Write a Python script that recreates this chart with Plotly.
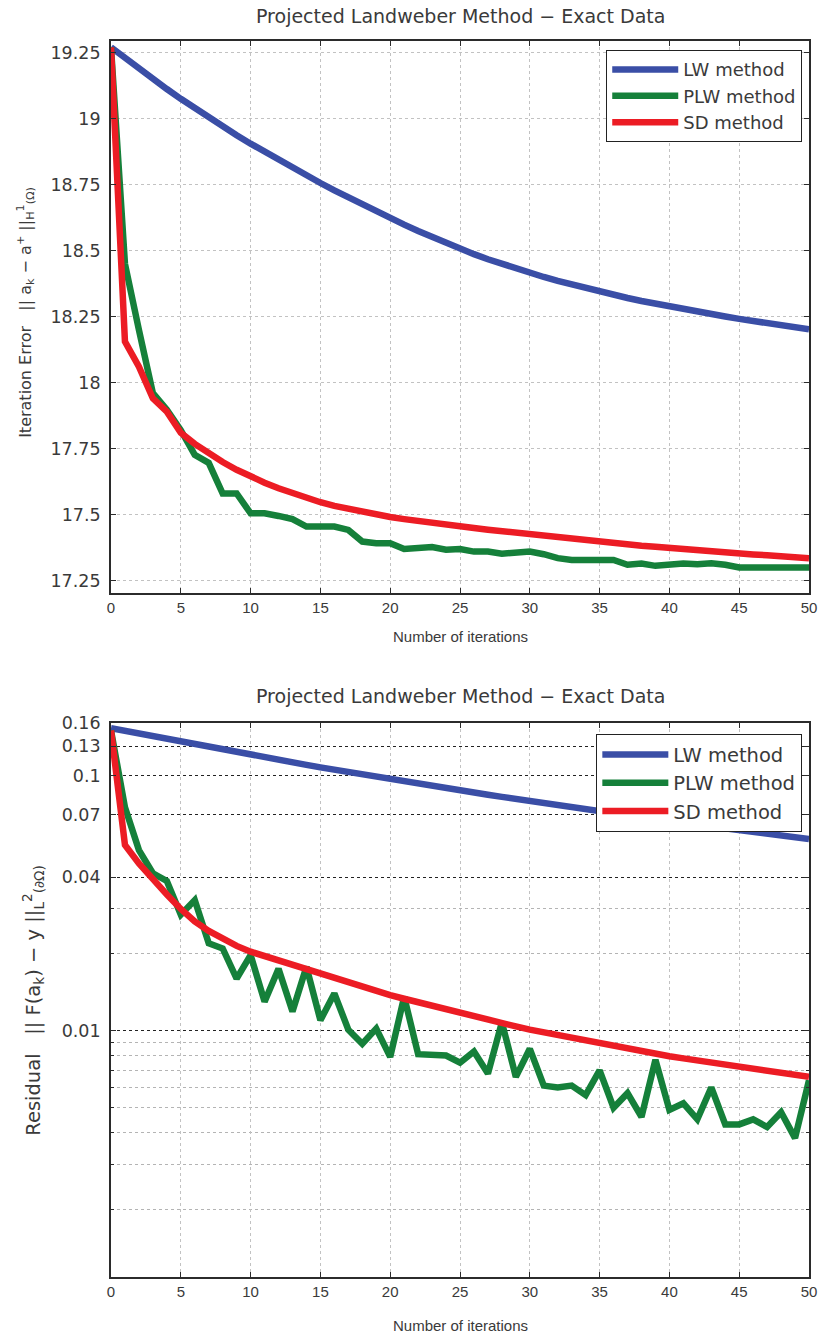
import plotly.graph_objects as go

iterations = list(range(51))

# Top panel: iteration error
err_lw = [19.27, 19.229, 19.189, 19.150, 19.112, 19.075, 19.039, 19.004, 18.970, 18.937,
          18.905, 18.874, 18.8435, 18.8137, 18.7845, 18.756, 18.7281, 18.7009, 18.6743, 18.6483,
          18.623, 18.5984, 18.5745, 18.5513, 18.5288, 18.507, 18.4865, 18.4672, 18.449, 18.4318,
          18.4155, 18.400, 18.3852, 18.3711, 18.3576, 18.3447, 18.3324, 18.3206, 18.3093, 18.2985,
          18.2881, 18.2781, 18.2685, 18.2592, 18.2502, 18.2415, 18.2331, 18.2249, 18.2169, 18.2091,
          18.2015]
err_plw = [19.27, 18.45, 18.2, 17.96, 17.897, 17.82, 17.726, 17.696, 17.58, 17.58,
           17.505, 17.505, 17.495, 17.483, 17.455, 17.455, 17.455, 17.442, 17.398, 17.392,
           17.392, 17.37, 17.374, 17.377, 17.367, 17.37, 17.36, 17.36, 17.352, 17.356,
           17.36, 17.35, 17.335, 17.328, 17.328, 17.322, 17.328, 17.31, 17.315, 17.306,
           17.31, 17.315, 17.312, 17.316, 17.31, 17.3, 17.3, 17.3, 17.301, 17.3,
           17.3]
err_sd = [19.27, 18.155, 18.06, 17.94, 17.89, 17.81, 17.768, 17.731, 17.699, 17.670,
          17.644, 17.621, 17.600, 17.581, 17.563, 17.547, 17.533, 17.521, 17.510, 17.500,
          17.491, 17.483, 17.475, 17.468, 17.461, 17.455, 17.449, 17.443, 17.437, 17.431,
          17.425, 17.419, 17.413, 17.408, 17.402, 17.397, 17.392, 17.387, 17.382, 17.378,
          17.373, 17.369, 17.365, 17.361, 17.357, 17.353, 17.349, 17.346, 17.342, 17.339,
          17.335]

# Bottom panel: residual (log scale)
res_lw = [0.153, 0.1493, 0.1456, 0.1421, 0.1386, 0.1352, 0.1321, 0.1290, 0.1261, 0.1231,
          0.1203, 0.1176, 0.1150, 0.1125, 0.1100, 0.1075, 0.1052, 0.1030, 0.1008, 0.0987,
          0.0966, 0.0947, 0.0928, 0.0909, 0.0891, 0.0873, 0.0856, 0.0840, 0.0824, 0.0808,
          0.0792, 0.0778, 0.0763, 0.0749, 0.0736, 0.0722, 0.0710, 0.0697, 0.0685, 0.0674,
          0.0662, 0.0651, 0.0640, 0.0630, 0.0619, 0.0609, 0.0600, 0.0591, 0.0582, 0.0573,
          0.0564]
res_plw = [0.150, 0.075, 0.051, 0.0414, 0.0386, 0.0285, 0.0325, 0.022, 0.021, 0.016,
           0.0198, 0.013, 0.0175, 0.0119, 0.0178, 0.0110, 0.014, 0.0101, 0.0089, 0.0102,
           0.0079, 0.0136, 0.0081, 0.0080, 0.0080, 0.0075, 0.0083, 0.0068, 0.0108, 0.0066,
           0.0085, 0.0061, 0.0060, 0.0061, 0.0056, 0.0070, 0.0050, 0.0057, 0.0046, 0.0077,
           0.0049, 0.0052, 0.0045, 0.0060, 0.0043, 0.0043, 0.0045, 0.0042, 0.0048, 0.0038,
           0.0064]
res_sd = [0.150, 0.0534, 0.0452, 0.0389, 0.0342, 0.0300, 0.0268, 0.0246, 0.0229, 0.0215,
          0.0204, 0.0196, 0.0188, 0.0180, 0.0173, 0.0166, 0.0160, 0.0154, 0.0149, 0.0143,
          0.0138, 0.01335, 0.01292, 0.0125, 0.01209, 0.0117, 0.01136, 0.01103, 0.01071, 0.0104,
          0.0101, 0.00985, 0.0096, 0.00936, 0.00913, 0.0089, 0.0087, 0.0085, 0.00832, 0.00813,
          0.00795, 0.0078, 0.00765, 0.0075, 0.00736, 0.00722, 0.00709, 0.00697, 0.00684, 0.00672,
          0.0066]

series_names = ["LW method", "PLW method", "SD method"]
colors = ["#3a4ea6", "#15803a", "#ec1c24"]

x_ticks = list(range(0, 51, 5))
err_ticks = [17.25, 17.5, 17.75, 18, 18.25, 18.5, 18.75, 19, 19.25]
err_ticklabels = ["17.25", "17.5", "17.75", "18", "18.25", "18.5", "18.75", "19", "19.25"]
res_ticks = [0.01, 0.04, 0.07, 0.1, 0.13, 0.16]
res_ticklabels = ["0.01", "0.04", "0.07", "0.1", "0.13", "0.16"]
res_minor_ticks = [0.002, 0.003, 0.004, 0.005, 0.006, 0.007, 0.008, 0.009, 0.02, 0.03]

title_text = "Projected Landweber Method − Exact Data"
xtitle_text = "Number of iterations"
ytitle_top = "Iteration Error   || a<sub>k</sub> − a<sup>+</sup> ||<sub>H</sub><sup>1</sup><sub>(Ω)</sub>"
ytitle_bot = "Residual   || F(a<sub>k</sub>) − y ||<sub>L</sub><sup>2</sup><sub>(∂Ω)</sub>"

W, H = 829, 1340
L, R, T, B = 111, 816, 40, 1277

def px(xp):
    return (xp - L) / (R - L)

def py(yp):
    return (B - yp) / (B - T)

TXT = "#3a3a3a"
WIDE = "DejaVu Sans, Liberation Sans, Arial"
ARIAL = "Liberation Sans, Arial"

fig = go.Figure()
for name, col, ys in zip(series_names, colors, [err_lw, err_plw, err_sd]):
    fig.add_trace(go.Scatter(x=iterations, y=ys, mode="lines", name=name,
                             line=dict(color=col, width=6.5), xaxis="x", yaxis="y",
                             legend="legend"))
for name, col, ys in zip(series_names, colors, [res_lw, res_plw, res_sd]):
    fig.add_trace(go.Scatter(x=iterations, y=ys, mode="lines", name=name,
                             line=dict(color=col, width=6.5), xaxis="x2", yaxis="y2",
                             legend="legend2"))

frame = dict(showline=True, linecolor="#2b2b2b", linewidth=1.8, mirror="ticks",
             ticks="inside", ticklen=5, tickcolor="#2b2b2b", zeroline=False)

xcommon = dict(range=[0, 50], tickvals=x_ticks, showgrid=True, gridcolor="#c2c2c2",
               griddash="dot", gridwidth=1,
               tickfont=dict(family=ARIAL, size=15, color=TXT), **frame)

top_dom = [py(593.3), py(40.7)]
bot_dom = [py(1276.7), py(723.3)]

fig.update_layout(
    width=W, height=H,
    margin=dict(l=L, r=W - R, t=T, b=H - B, pad=0),
    paper_bgcolor="white", plot_bgcolor="white",
    showlegend=True,
    xaxis=dict(anchor="y", domain=[0, 1], **xcommon),
    xaxis2=dict(anchor="y2", domain=[0, 1], **xcommon),
    yaxis=dict(anchor="x", domain=top_dom, range=[17.202, 19.295],
               tickvals=err_ticks, ticktext=err_ticklabels, ticklabelstandoff=5,
               showgrid=True, gridcolor="#c2c2c2", griddash="dot", gridwidth=1,
               tickfont=dict(family=WIDE, size=17.5, color=TXT), **frame),
    yaxis2=dict(anchor="x2", domain=bot_dom, type="log", range=[-2.963, -0.7959],
                tickvals=res_ticks, ticktext=res_ticklabels, ticklabelstandoff=5,
                showgrid=True, gridcolor="#222222", griddash="dot", gridwidth=1.2,
                minor=dict(tickvals=res_minor_ticks, showgrid=True, gridcolor="#b4b4b4",
                           griddash="dot", gridwidth=1, ticks="inside", ticklen=3,
                           tickcolor="#2b2b2b"),
                tickfont=dict(family=WIDE, size=17.5, color=TXT), **frame),
    legend=dict(x=px(611), y=py(50), xanchor="left", yanchor="top",
                bgcolor="white", bordercolor="#222222", borderwidth=1.2,
                font=dict(family=WIDE, size=18, color=TXT),
                itemwidth=66, tracegroupgap=0),
    legend2=dict(x=px(601), y=py(734), xanchor="left", yanchor="top",
                 bgcolor="white", bordercolor="#222222", borderwidth=1.2,
                 font=dict(family=WIDE, size=19.5, color=TXT),
                 itemwidth=66, tracegroupgap=0),
)

ann = []
for yy in (16, 696):
    ann.append(dict(text=title_text, xref="paper", yref="paper", x=0.5, y=py(yy),
                    showarrow=False, font=dict(family=WIDE, size=19, color=TXT),
                    xanchor="center", yanchor="middle"))
for yy in (636, 1325):
    ann.append(dict(text=xtitle_text, xref="paper", yref="paper", x=0.5, y=py(yy),
                    showarrow=False, font=dict(family=ARIAL, size=15, color=TXT),
                    xanchor="center", yanchor="middle"))
ann.append(dict(text=ytitle_top, xref="paper", yref="paper", x=px(24), y=py(312),
                showarrow=False, textangle=-90, font=dict(family=WIDE, size=16, color=TXT),
                xanchor="center", yanchor="middle"))
ann.append(dict(text=ytitle_bot, xref="paper", yref="paper", x=px(32), y=py(1000),
                showarrow=False, textangle=-90, font=dict(family=WIDE, size=19.5, color=TXT),
                xanchor="center", yanchor="middle"))
fig.update_layout(annotations=ann)

fig.write_html("out.html", config={"displayModeBar": False},
               post_script="document.body.style.margin='0';document.body.style.overflow='hidden';")
